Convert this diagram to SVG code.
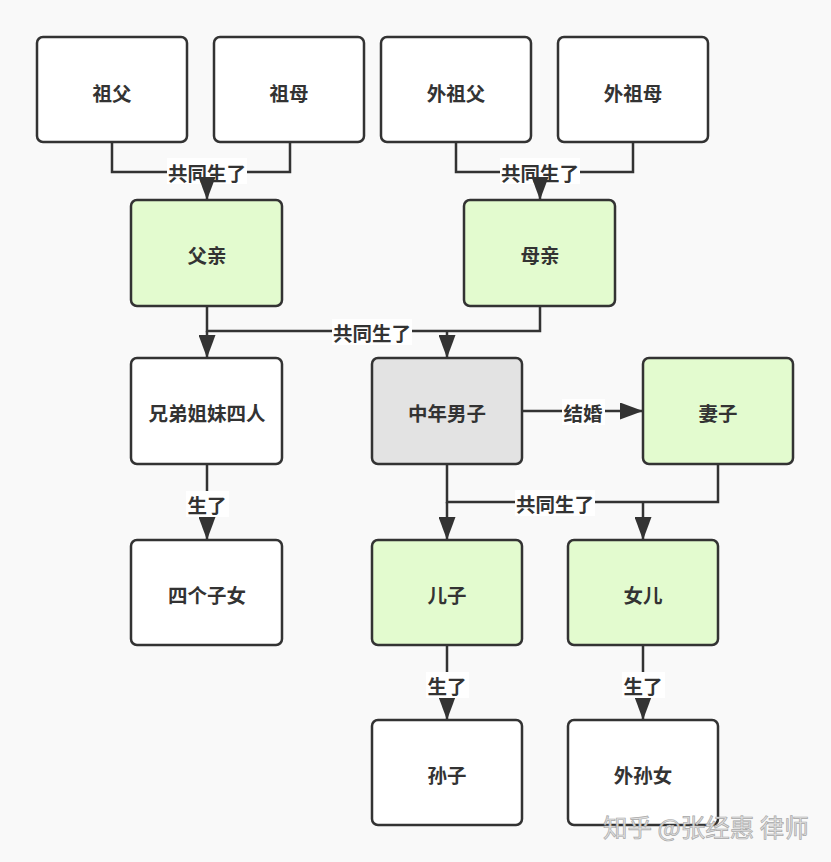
<svg xmlns="http://www.w3.org/2000/svg" width="831" height="862" viewBox="0 0 831 862">
<defs>
<style>
.n rect{stroke:#333;stroke-width:2.5;fill:#ffffff}
.n.g rect{fill:#e3fbcf}
.n.y rect{fill:#e3e3e3}
.n text,.lb text{font-family:"Noto Sans CJK SC","Noto Sans",sans-serif;font-weight:bold;font-size:19.5px;fill:#333;text-anchor:middle;dominant-baseline:central}
.e{fill:none;stroke:#333;stroke-width:2.5}
.lb rect{fill:#ffffff;stroke:none}
.wm{font-family:"Noto Sans CJK SC","Noto Sans",sans-serif;font-size:24.5px;fill:#e2e2e2;stroke:#a8a8a8;stroke-width:0.7}
</style>
<marker id="ar" markerUnits="userSpaceOnUse" markerWidth="24" markerHeight="17" refX="23" refY="8.5" orient="auto">
<path d="M0,0 L23,8.5 L0,17 Z" fill="#333"/>
</marker>
</defs>
<rect x="0" y="0" width="831" height="862" fill="#f9f9f9"/>

<g id="connectors">
<path class="e" d="M112,142 V172 H290 V142"/>
<path class="e" d="M456,142 V172 H633 V142"/>
<path class="e" d="M207,306 V331 H540 V306"/>
<path class="e" d="M447,464 V502 H718 V464"/>
<path class="e" d="M522,411 H643" marker-end="url(#ar)"/>
<path class="e" d="M207,464 V540" marker-end="url(#ar)"/>
<path class="e" d="M447,645 V720" marker-end="url(#ar)"/>
<path class="e" d="M643,645 V720" marker-end="url(#ar)"/>
<path class="e" d="M207,331 V358" marker-end="url(#ar)"/>
<path class="e" d="M447,331 V358" marker-end="url(#ar)"/>
<path class="e" d="M447,502 V540" marker-end="url(#ar)"/>
<path class="e" d="M643,502 V540" marker-end="url(#ar)"/>
<g class="lb"><rect x="167" y="158" width="80" height="26"/><text x="207" y="172">共同生了</text></g>
<g class="lb"><rect x="500" y="158" width="80" height="26"/><text x="540" y="172">共同生了</text></g>
<g class="lb"><rect x="332" y="319" width="80" height="26"/><text x="372" y="332">共同生了</text></g>
<g class="lb"><rect x="515" y="490" width="80" height="26"/><text x="555" y="503">共同生了</text></g>
<g class="lb"><rect x="562" y="399" width="43" height="26"/><text x="583" y="412">结婚</text></g>
<g class="lb"><rect x="186" y="491" width="43" height="26"/><text x="207" y="504">生了</text></g>
<g class="lb"><rect x="426" y="672" width="43" height="26"/><text x="447" y="685">生了</text></g>
<g class="lb"><rect x="622" y="672" width="43" height="26"/><text x="643" y="685">生了</text></g>
<path class="e" d="M207,183 V200" marker-end="url(#ar)"/>
<path class="e" d="M540,183 V200" marker-end="url(#ar)"/>
</g>

<g id="n-zufu" class="n"><rect x="37" y="37" width="150" height="105" rx="6"/><text x="112" y="92">祖父</text></g>
<g id="n-zumu" class="n"><rect x="214" y="37" width="150" height="105" rx="6"/><text x="289" y="92">祖母</text></g>
<g id="n-waizufu" class="n"><rect x="381" y="37" width="150" height="105" rx="6"/><text x="456" y="92">外祖父</text></g>
<g id="n-waizumu" class="n"><rect x="558" y="37" width="150" height="105" rx="6"/><text x="633" y="92">外祖母</text></g>
<g id="n-fuqin" class="n g"><rect x="131" y="200" width="151" height="106" rx="6"/><text x="207" y="254">父亲</text></g>
<g id="n-muqin" class="n g"><rect x="464" y="200" width="151" height="106" rx="6"/><text x="540" y="254">母亲</text></g>
<g id="n-xiongdi" class="n"><rect x="131" y="358" width="151" height="106" rx="6"/><text x="207" y="412">兄弟姐妹四人</text></g>
<g id="n-zhongnian" class="n y"><rect x="372" y="358" width="150" height="106" rx="6"/><text x="447" y="412">中年男子</text></g>
<g id="n-qizi" class="n g"><rect x="643" y="358" width="150" height="106" rx="6"/><text x="718" y="412">妻子</text></g>
<g id="n-sige" class="n"><rect x="131" y="540" width="151" height="105" rx="6"/><text x="207" y="594">四个子女</text></g>
<g id="n-erzi" class="n g"><rect x="372" y="540" width="150" height="105" rx="6"/><text x="447" y="594">儿子</text></g>
<g id="n-nver" class="n g"><rect x="568" y="540" width="150" height="105" rx="6"/><text x="643" y="594">女儿</text></g>
<g id="n-sunzi" class="n"><rect x="372" y="720" width="150" height="105" rx="6"/><text x="447" y="774">孙子</text></g>
<g id="n-waisunnv" class="n"><rect x="568" y="720" width="150" height="105" rx="6"/><text x="643" y="774">外孙女</text></g>

<text class="wm" x="603" y="837">知乎 @张经惠 律师</text>
</svg>
